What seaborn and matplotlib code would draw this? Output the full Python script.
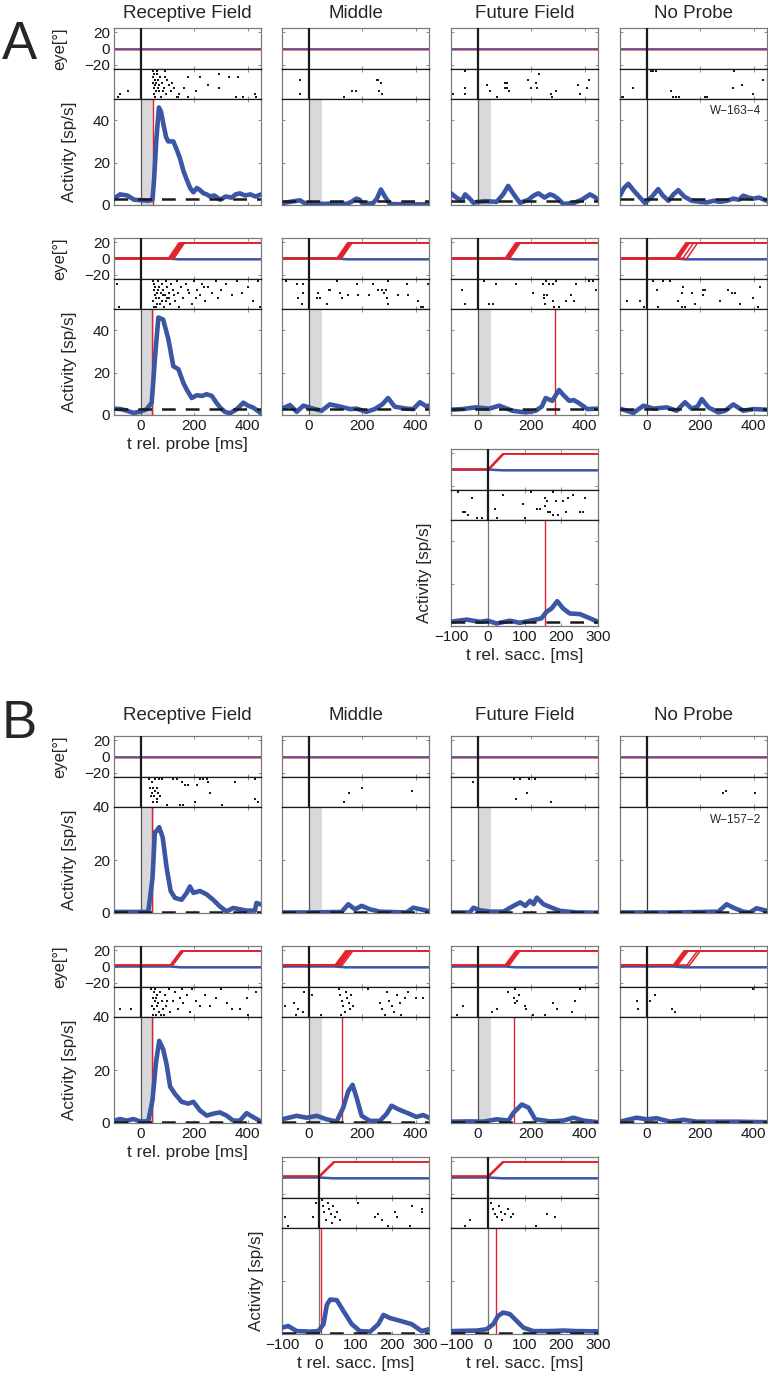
"""Probe / saccade aligned activity panels (eye, raster, firing rate)."""

import matplotlib
matplotlib.use("Agg")
import matplotlib.pyplot as plt
import matplotlib.transforms as mtransforms
import seaborn as sns

sns.set_theme(style="white")
plt.rcParams["font.family"] = ["Liberation Sans", "DejaVu Sans"]

FIG_W, FIG_H = 768, 1375
COL_X = [114, 282, 451, 620]
AX_W = 147
EYE_H, RAS_H, ACT_H = 41, 30, 106

BLUE = "#3a56a5"
RED = "#e3232b"
SHADE = "#d9d9db"
FRAME = "#7a7a7a"

TITLES = ["Receptive Field", "Middle", "Future Field", "No Probe"]
PROBE_XLIM = (-100, 450)
SACC_XLIM = (-100, 300)
PROBE_TICKS = [0, 200, 400]
SACC_TICKS = [-100, 0, 100, 200, 300]
SACC_AMP = 19      # eye displacement after saccade [deg]
SACC_DUR = 40      # ms
BLUE_DRIFT = -1.0
PROBE_SHADE = (0, 50)

# ---------------- activity curves (t [ms], rate [sp/s]) ----------------
A1_RF_ACT = [(-100, 3), (-78, 5), (-50, 4.5), (-25, 2.5), (-3, 2.3), (30, 2), (44, 2.5), (50, 12), (58, 30),
             (68, 46), (76, 44), (85, 38), (95, 32), (103, 30), (122, 30), (135, 26), (147, 22), (160, 16),
             (172, 12), (185, 8), (197, 6), (210, 8), (222, 7), (235, 5.5), (247, 5), (260, 4), (275, 4.5),
             (297, 2.5), (318, 4), (340, 3.5), (355, 5), (371, 5.5), (390, 4.5), (410, 5), (430, 4), (450, 5)]
A1_MID_ACT = [(-100, 0.8), (-70, 1.5), (-33, 2.2), (-10, 0.5), (20, 0.8), (60, 0.5), (100, 0.8), (142, 0.5),
              (160, 1.5), (178, 3), (190, 2.5), (203, 0.5), (240, 0.8), (255, 3), (270, 7.3), (285, 4),
              (304, 0.5), (350, 0.3), (450, 0.3)]
A1_FUT_ACT = [(-100, 5.5), (-80, 3.5), (-60, 2), (-47, 5), (-30, 3), (-16, 1), (0, 1.5), (30, 1.8), (71, 1.5),
              (95, 5), (114, 9), (135, 5), (158, 1), (190, 2.5), (210, 4.5), (227, 5.5), (250, 3.5), (270, 5),
              (283, 4.5), (300, 3), (320, 0.5), (360, 1), (390, 2.5), (420, 5), (435, 4), (450, 2.5)]
A1_NP_ACT = [(-100, 4.4), (-85, 8), (-69, 10), (-50, 7), (-25, 3.5), (-7, 1), (20, 4), (43, 7.5), (60, 4.5),
             (81, 2), (100, 5), (118, 7), (140, 4), (168, 2), (200, 1.5), (224, 1.2), (250, 2), (274, 1.5),
             (300, 2), (324, 3), (345, 2.5), (361, 4.4), (380, 3.5), (399, 3), (420, 3.5), (450, 2)]

A2_RF_ACT = [(-100, 3), (-75, 2.8), (-52, 2), (-27, 1), (-3, 1.5), (22, 2.7), (41, 5.8), (54, 28), (66, 46),
             (84, 45), (103, 36), (122, 23), (141, 21.6), (160, 15), (172, 12), (191, 8), (209, 9.3), (230, 9),
             (247, 9.8), (266, 9), (282, 6), (297, 3.5), (315, 1.5), (334, 0.8), (359, 2.7), (384, 5.8),
             (400, 4.5), (421, 3.5), (450, 0.8)]
A2_MID_ACT = [(-100, 3), (-70, 4.7), (-45, 1.5), (-20, 4.4), (17, 3), (48, 2), (79, 5), (117, 4), (154, 2.8),
              (179, 3), (216, 1.5), (247, 2.8), (275, 5), (297, 8), (322, 3.9), (366, 3), (391, 2.8),
              (416, 6), (441, 4), (450, 4.5)]
A2_FUT_ACT = [(-100, 2.5), (-57, 2.8), (-7, 3.6), (43, 3), (80, 4.4), (130, 2), (180, 1.2), (217, 2), (240, 4),
              (254, 8), (279, 6.7), (304, 11.8), (320, 9.5), (342, 6.7), (360, 7), (379, 5.6), (410, 2.8),
              (450, 3)]
A2_NP_ACT = [(-100, 3), (-50, 1), (-12, 4.4), (25, 3), (75, 3.6), (112, 2), (143, 6), (168, 3), (190, 4),
             (206, 7.5), (231, 3.6), (268, 1.2), (293, 2), (324, 5), (361, 2), (399, 2.8), (450, 2.5)]

A3_SACC_ACT = [(-100, 2), (-80, 2.5), (-57, 3), (-40, 2.5), (-21, 2), (0, 2.5), (24, 1.2), (60, 2.5), (87, 1.5),
               (124, 2.8), (146, 3.6), (160, 6.7), (174, 8.3), (189, 11.7), (205, 8.3), (223, 5.9), (251, 5.6),
               (273, 4), (300, 2)]

B1_RF_ACT = [(-100, 0.4), (0, 0.4), (28, 0.4), (44, 13), (53, 30.5), (60, 31), (69, 32.4), (82, 28.6), (97, 17),
             (112, 8.3), (128, 5.7), (153, 5), (172, 7.6), (184, 10), (197, 7.6), (222, 8.3), (247, 7),
             (271, 5), (296, 2.5), (321, 0.6), (346, 1.9), (396, 0.9), (427, 0.9), (433, 3.8), (450, 3.2)]
B1_MID_ACT = [(-100, 0.2), (0, 0.2), (123, 0.4), (148, 3.3), (173, 1.4), (198, 2.7), (229, 1.4), (266, 0.5),
              (366, 0.2), (391, 2), (450, 0.7)]
B1_FUT_ACT = [(-100, 0.2), (-30, 0.2), (-16, 2), (9, 1), (50, 0.5), (96, 0.5), (134, 2.7), (159, 4), (178, 2.7),
              (196, 4.6), (209, 3.3), (221, 5.8), (246, 3.3), (277, 2), (308, 0.8), (371, 0.2), (450, 0.1)]
B1_NP_ACT = [(-100, 0.2), (100, 0.2), (268, 0.5), (299, 3.3), (324, 2), (361, 0.5), (386, 0.2), (411, 1.8),
             (450, 0.8)]

B2_RF_ACT = [(-100, 0.9), (-77, 1.5), (-52, 0.9), (-27, 1.5), (-3, 0.6), (28, 0.6), (44, 8.6), (57, 22.7),
             (69, 31), (84, 27.8), (97, 22), (110, 13.7), (128, 11), (153, 8), (178, 7.3), (197, 8), (222, 4.7),
             (247, 2.8), (271, 3.5), (296, 4), (321, 2.8), (346, 0.9), (371, 0.9), (396, 3.7), (421, 2.2),
             (450, 0.6)]
B2_MID_ACT = [(-100, 1.4), (-45, 2.7), (-8, 2), (30, 2.7), (67, 1.4), (104, 0.5), (129, 5.8), (148, 12),
              (164, 14.4), (179, 9.6), (198, 2.7), (229, 0.8), (266, 0.8), (291, 3.4), (310, 6.5), (335, 5.2),
              (366, 3.9), (403, 2.3), (428, 3), (450, 2)]
B2_FUT_ACT = [(-100, 0.5), (-29, 0.6), (21, 0.5), (71, 1.4), (115, 0.9), (134, 3.9), (165, 7), (190, 5.8),
              (215, 1.4), (271, 0.6), (321, 0.9), (358, 2), (396, 0.9), (450, 0.3)]
B2_NP_ACT = [(-100, 0.5), (-38, 2), (0, 1.4), (37, 1.8), (87, 0.5), (137, 1.2), (187, 0.5), (336, 0.5),
             (450, 0.3)]

B3_MID_ACT = [(-100, 2.4), (-83, 3), (-60, 1.1), (-24, 0.9), (-1, 1.1), (13, 3.7), (22, 11), (31, 13), (49, 12.8),
              (67, 8.7), (90, 3.7), (112, 1.1), (140, 0.9), (162, 3.7), (176, 7.2), (194, 6), (221, 5),
              (253, 3.7), (280, 1.1), (300, 1.8)]
B3_FUT_ACT = [(-100, 1.1), (-30, 1.3), (-3, 1.8), (15, 3.7), (28, 6.8), (42, 8.1), (60, 7.5), (74, 5.6),
              (97, 2.4), (124, 1.1), (169, 1.1), (205, 1.3), (240, 1.1), (300, 1)]

# ---------------- raster spikes (t [ms], trial) ----------------
A1_RF_SPK = [(45, 10), (50, 9), (47, 8), (52, 7), (46, 6), (55, 5), (50, 4), (58, 3), (48, 2), (53, 1), (62, 9),
             (66, 7), (70, 5), (68, 3), (75, 1), (80, 6), (88, 4), (92, 8), (96, 2), (105, 5), (112, 3), (125, 4),
             (135, 1), (145, 2), (60, 10), (72, 8), (82, 3), (90, 10), (-79, 2), (-48, 3), (-85, 1), (178, 8),
             (222, 8), (294, 9), (331, 8), (365, 8), (162, 4), (205, 3), (250, 5), (294, 4), (381, 1), (427, 2),
             (433, 1), (355, 1), (140, 1), (175, 1), (57, 6), (63, 4), (100, 7), (118, 6)]
A1_MID_SPK = [(-33, 7), (-33, 2), (132, 1), (161, 3), (175, 3), (254, 7), (260, 7), (270, 6), (264, 3), (273, 2)]
A1_FUT_SPK = [(-91, 2), (-48, 10), (-48, 4), (-48, 2), (34, 5), (46, 3), (71, 1), (102, 6), (111, 6), (102, 4),
              (111, 4), (118, 3), (189, 7), (230, 9), (217, 6), (220, 4), (199, 4), (274, 2), (293, 3), (277, 1),
              (377, 5), (381, 2), (408, 4), (418, 7)]
A1_NP_SPK = [(-98, 1), (-93, 1), (-88, 1), (-50, 4), (15, 10), (25, 10), (35, 10), (91, 3), (100, 1), (110, 1),
             (120, 1), (218, 1), (225, 1), (324, 4), (328, 10), (358, 5), (399, 2), (436, 7)]

A2_RF_SPK = [(-88, 9), (-80, 1), (45, 10), (50, 9), (55, 8), (48, 7), (60, 6), (52, 5), (58, 4), (46, 3), (62, 2),
             (50, 1), (65, 10), (70, 8), (75, 6), (68, 4), (72, 2), (80, 9), (85, 7), (90, 5), (78, 3), (88, 1),
             (95, 10), (100, 8), (105, 6), (98, 4), (110, 2), (115, 9), (120, 7), (125, 5), (130, 3), (135, 10),
             (140, 6), (150, 8), (160, 4), (170, 9), (180, 6), (190, 2), (200, 10), (210, 7), (220, 5), (230, 9),
             (240, 3), (250, 8), (265, 6), (280, 10), (290, 4), (300, 7), (320, 9), (340, 5), (360, 10), (380, 6),
             (400, 8), (420, 3), (440, 10), (445, 1), (56, 1), (63, 7), (83, 5), (93, 3), (107, 4), (145, 1),
             (175, 7), (205, 4), (235, 8)]
A2_MID_SPK = [(-85, 10), (-45, 9), (-20, 9), (-23, 6), (-39, 4), (-26, 2), (36, 6), (30, 4), (42, 4), (74, 7),
              (80, 7), (105, 10), (67, 2), (117, 6), (123, 4), (148, 5), (179, 9), (186, 5), (226, 5), (242, 9),
              (261, 7), (273, 7), (280, 6), (289, 7), (296, 10), (292, 4), (298, 2), (335, 5), (366, 9), (372, 5),
              (410, 3), (420, 1), (429, 1), (447, 9)]
A2_FUT_SPK = [(-60, 7), (-48, 2), (22, 10), (44, 2), (56, 2), (68, 9), (143, 9), (205, 6), (243, 9), (255, 10),
              (268, 9), (280, 9), (293, 10), (249, 5), (261, 5), (249, 4), (252, 2), (280, 3), (286, 1), (305, 1),
              (330, 3), (349, 5), (361, 3), (368, 9), (417, 10), (430, 10), (442, 7)]
A2_NP_SPK = [(-75, 3), (-25, 3), (-12, 1), (25, 10), (62, 10), (37, 7), (44, 1), (87, 10), (118, 3), (131, 6),
             (131, 1), (137, 8), (143, 1), (168, 6), (181, 2), (212, 7), (218, 7), (212, 5), (274, 3), (305, 7),
             (318, 6), (330, 6), (349, 2), (399, 4), (418, 1), (424, 8)]
A3_SACC_SPK = [(-80, 10), (-44, 8), (-68, 3), (-62, 3), (-53, 2), (-30, 1), (-17, 1), (19, 4), (24, 1), (42, 9),
               (97, 6), (101, 1), (119, 10), (133, 4), (142, 4), (156, 8), (160, 7), (157, 5), (164, 3), (169, 3),
               (178, 10), (178, 2), (187, 7), (191, 2), (205, 7), (214, 3), (219, 8), (232, 9), (250, 3),
               (259, 3), (264, 8)]

B1_RF_SPK = [(32, 10), (41, 9), (54, 10), (69, 10), (78, 10), (35, 7), (47, 7), (60, 7), (41, 5), (54, 6),
             (66, 5), (37, 4), (50, 4), (60, 3), (72, 4), (45, 2), (60, 2), (97, 1), (122, 10), (134, 10),
             (153, 9), (166, 8), (178, 8), (209, 8), (222, 10), (234, 10), (247, 10), (253, 9), (259, 5),
             (353, 9), (427, 10), (427, 3), (440, 2), (147, 1), (157, 1), (203, 2), (303, 1)]
B1_MID_SPK = [(132, 2), (150, 5), (200, 7), (387, 6)]
B1_FUT_SPK = [(-19, 9), (134, 10), (158, 10), (190, 10), (214, 10), (143, 3), (184, 5), (275, 2)]
B1_NP_SPK = [(286, 5), (296, 6), (405, 5)]

B2_RF_SPK = [(-79, 3), (-36, 3), (40, 10), (48, 9), (55, 10), (62, 8), (45, 7), (52, 6), (58, 7), (65, 5),
             (42, 4), (50, 3), (60, 4), (68, 2), (47, 1), (56, 1), (72, 9), (78, 6), (85, 3), (90, 8), (75, 1),
             (95, 4), (105, 10), (110, 2), (122, 6), (130, 9), (140, 3), (147, 7), (153, 10), (160, 5), (172, 8),
             (185, 2), (191, 10), (205, 6), (220, 4), (240, 8), (259, 4), (280, 7), (300, 10), (321, 5),
             (340, 3), (371, 3), (396, 7), (402, 1), (430, 9), (88, 1), (100, 6)]
B2_MID_SPK = [(-89, 4), (-55, 5), (-39, 3), (-20, 2), (-48, 1), (-17, 9), (11, 8), (45, 1), (112, 10), (118, 8),
              (125, 6), (130, 4), (135, 2), (140, 9), (145, 7), (150, 5), (155, 3), (122, 1), (160, 8), (165, 4),
              (223, 10), (268, 5), (275, 3), (285, 1), (291, 9), (300, 6), (310, 4), (320, 2), (330, 8), (340, 5),
              (347, 1), (360, 7), (372, 9), (403, 7), (428, 7)]
B2_FUT_SPK = [(-56, 4), (-77, 1), (52, 2), (71, 3), (115, 9), (140, 10), (134, 7), (146, 6), (140, 5), (155, 8),
              (177, 4), (181, 3), (208, 1), (252, 1), (283, 5), (298, 3), (352, 2), (364, 6), (383, 10)]
B2_NP_SPK = [(-38, 6), (-31, 3), (12, 6), (31, 8), (96, 3), (104, 2), (399, 10)]
B3_MID_SPK = [(-92, 4), (-83, 1), (-15, 4), (-8, 9), (8, 10), (12, 8), (15, 6), (20, 3), (25, 9), (28, 7),
              (32, 5), (35, 2), (40, 8), (45, 4), (50, 6), (58, 3), (108, 9), (153, 4), (162, 5), (171, 3),
              (189, 1), (207, 6), (212, 4), (249, 1), (253, 8), (280, 7), (280, 6)]
B3_FUT_SPK = [(-62, 1), (-48, 3), (10, 9), (15, 7), (20, 5), (25, 4), (30, 8), (35, 6), (40, 3), (48, 5),
              (55, 7), (62, 4), (70, 5), (131, 1), (160, 5), (183, 4)]

# ---------------- saccade onsets per trial [ms] (probe-aligned rows) ----------------
A2_RF_ONSETS = [103, 107, 110, 113, 116, 120, 124]
A2_MID_ONSETS = [105, 108, 111, 114, 118, 122]
A2_FUT_ONSETS = [102, 105, 108, 112, 115, 119]
A2_NP_ONSETS = [106, 109, 112, 116, 120, 135, 150]
B2_RF_ONSETS = [110, 113, 116, 120]
B2_MID_ONSETS = [98, 102, 106, 110, 114, 118, 125]
B2_FUT_ONSETS = [102, 106, 110, 114, 118]
B2_NP_ONSETS = [99, 103, 107, 111, 115, 150, 160]
SACC_ALIGNED_ONSETS = [0, 2, 4]

# red marker (response latency) and dashed baseline rate
A1_RED = [46, None, None, None]
A2_RED = [41, None, 289, None]
A3_RED = 156
B1_RED = [41, None, None, None]
B2_RED = [41, 126, 137, None]
B3_RED = [7, 22]
A1_BASE = [2.8, 2, 2, 3]
A2_BASE = [3, 3, 3, 3]
A3_BASE = 2
B_BASE = [0.3, 0.3, 0.3, 0.3]
B3_BASE = 0.4


def px_rect(x, y, w, h):
    return [x / FIG_W, 1 - (y + h) / FIG_H, w / FIG_W, h / FIG_H]


def style_axis(ax, xlim, xticks):
    ax.set_xlim(*xlim)
    ax.set_xticks(xticks)
    ax.tick_params(direction="in", length=2.5, width=0.6, color=FRAME, labelsize=11,
                   top=True, right=True, bottom=True, left=True, pad=3, labelcolor="#1a1a1a")
    for sp in ax.spines.values():
        sp.set_color(FRAME); sp.set_linewidth(0.9); sp.set_visible(True)
    ax.set_xlabel(""); ax.set_ylabel("")


def draw_eye(ax, onsets, xlim, red0):
    if onsets:
        on = onsets[0]
        sns.lineplot(x=[xlim[0], on, on + SACC_DUR, xlim[1]], y=[0, 0, BLUE_DRIFT, BLUE_DRIFT],
                     color=BLUE, lw=1.8, ax=ax)
        for on in onsets:
            sns.lineplot(x=[xlim[0], on, on + SACC_DUR, xlim[1]], y=[red0, red0, SACC_AMP, SACC_AMP],
                         color=RED, lw=1.1, ax=ax)
    else:
        sns.lineplot(x=list(xlim), y=[0, 0], color=RED, lw=1.8, alpha=0.8, ax=ax)
        sns.lineplot(x=list(xlim), y=[0, 0], color=BLUE, lw=1.2, alpha=0.85, ax=ax)


def draw_panel(fig, x0, top, act, spikes, onsets=(), red_t=None, base=2.0, ymax=50,
               sacc=False, probe=True, first_col=False, xlabels=False, red0=0.0):
    xlim = SACC_XLIM if sacc else PROBE_XLIM
    xticks = SACC_TICKS if sacc else PROBE_TICKS
    ax_e = fig.add_axes(px_rect(x0, top, AX_W, EYE_H))
    ax_r = fig.add_axes(px_rect(x0, top + EYE_H, AX_W, RAS_H))
    ax_a = fig.add_axes(px_rect(x0, top + EYE_H + RAS_H, AX_W, ACT_H))

    # eye position
    draw_eye(ax_e, list(onsets), xlim, red0)
    ax_e.axvline(0, color="k", lw=1.6, zorder=5)
    style_axis(ax_e, xlim, xticks)
    ax_e.set_ylim(-25, 25)
    ax_e.set_yticks([-20, 0, 20])
    ax_e.set_xticklabels([])

    # raster
    t, tr = zip(*spikes)
    sns.scatterplot(x=list(t), y=list(tr), marker="s", s=3.0, color="k", linewidth=0, ax=ax_r)
    ax_r.axvline(0, color="k", lw=1.6, zorder=5)
    style_axis(ax_r, xlim, xticks)
    ax_r.set_ylim(0.2, 10.8)
    ax_r.set_yticks([])
    ax_r.set_xticklabels([])

    # activity
    t, v = zip(*act)
    if probe and not sacc:
        ax_a.axvspan(*PROBE_SHADE, color=SHADE, lw=0, zorder=0)
        ax_a.axvline(0, color="#555555", lw=0.9, zorder=1)
    else:
        ax_a.axvline(0, color="#333333" if not sacc else "#777777", lw=0.9, zorder=1)
    if red_t is not None:
        ax_a.axvline(red_t, color=RED, lw=1.0, zorder=2)
    sns.lineplot(x=list(t), y=list(v), color=BLUE, lw=3.3, ax=ax_a, zorder=3)
    ax_a.axhline(base, color="k", lw=1.8, dashes=(5.5, 4), zorder=4)
    style_axis(ax_a, xlim, xticks)
    ax_a.set_ylim(0, ymax)
    ax_a.set_yticks([0, 20, 40])
    if not xlabels:
        ax_a.set_xticklabels([])

    # dividers between stacked axes
    ax_e.spines["bottom"].set_color("k")
    ax_r.spines["top"].set_color("k")
    ax_r.spines["bottom"].set_color("k")
    ax_a.spines["top"].set_color("k")

    if first_col:
        ax_e.set_ylabel("eye[°]", fontsize=12)
        ax_e.yaxis.set_label_coords(-0.32, 0.5)
        ax_a.set_ylabel("Activity [sp/s]", fontsize=12.3)
        ax_a.yaxis.set_label_coords(-0.25, 0.5)
    else:
        ax_e.set_yticklabels([])
        ax_a.set_yticklabels([])
    return ax_a


def nudge_label(label, dx_px):
    shift = mtransforms.ScaledTranslation(dx_px / 100, 0, fig.dpi_scale_trans)
    label.set_transform(label.get_transform() + shift)


fig = plt.figure(figsize=(FIG_W / 100, FIG_H / 100), dpi=100)

# ---------------- panel A ----------------
A_ROW1 = [A1_RF_ACT, A1_MID_ACT, A1_FUT_ACT, A1_NP_ACT]
A_ROW1_SPK = [A1_RF_SPK, A1_MID_SPK, A1_FUT_SPK, A1_NP_SPK]
A_ROW2 = [A2_RF_ACT, A2_MID_ACT, A2_FUT_ACT, A2_NP_ACT]
A_ROW2_SPK = [A2_RF_SPK, A2_MID_SPK, A2_FUT_SPK, A2_NP_SPK]
A_ROW2_ON = [A2_RF_ONSETS, A2_MID_ONSETS, A2_FUT_ONSETS, A2_NP_ONSETS]

for i in range(4):
    a = draw_panel(fig, COL_X[i], 28, A_ROW1[i], A_ROW1_SPK[i], red_t=A1_RED[i], base=A1_BASE[i],
                   ymax=50, probe=(i < 3), first_col=(i == 0))
    if i == 3:
        a.text(0.96, 0.89, "W−163−4", transform=a.transAxes, ha="right", va="center", fontsize=8.5)
    a = draw_panel(fig, COL_X[i], 238, A_ROW2[i], A_ROW2_SPK[i], onsets=A_ROW2_ON[i], red_t=A2_RED[i],
                   base=A2_BASE[i], ymax=50, probe=(i < 3), first_col=(i == 0), xlabels=True)
    if i == 0:
        a.set_xlabel("t rel. probe [ms]", fontsize=12.5, labelpad=3)

a = draw_panel(fig, COL_X[2], 449, A3_SACC_ACT, A3_SACC_SPK, onsets=SACC_ALIGNED_ONSETS, red_t=A3_RED,
               base=A3_BASE, ymax=50, sacc=True, xlabels=True)
a.set_xlabel("t rel. sacc. [ms]", fontsize=12.5, labelpad=3)
a.set_ylabel("Activity [sp/s]", fontsize=12.3)
a.yaxis.set_label_coords(-0.13, 0.5)

# ---------------- panel B ----------------
B_ROW1 = [B1_RF_ACT, B1_MID_ACT, B1_FUT_ACT, B1_NP_ACT]
B_ROW1_SPK = [B1_RF_SPK, B1_MID_SPK, B1_FUT_SPK, B1_NP_SPK]
B_ROW2 = [B2_RF_ACT, B2_MID_ACT, B2_FUT_ACT, B2_NP_ACT]
B_ROW2_SPK = [B2_RF_SPK, B2_MID_SPK, B2_FUT_SPK, B2_NP_SPK]
B_ROW2_ON = [B2_RF_ONSETS, B2_MID_ONSETS, B2_FUT_ONSETS, B2_NP_ONSETS]

for i in range(4):
    a = draw_panel(fig, COL_X[i], 736, B_ROW1[i], B_ROW1_SPK[i], red_t=B1_RED[i], base=B_BASE[i],
                   ymax=40, probe=(i < 3), first_col=(i == 0))
    if i == 3:
        a.text(0.96, 0.88, "W−157−2", transform=a.transAxes, ha="right", va="center", fontsize=8.5)
    a = draw_panel(fig, COL_X[i], 946, B_ROW2[i], B_ROW2_SPK[i], onsets=B_ROW2_ON[i], red_t=B2_RED[i],
                   base=B_BASE[i], ymax=40, probe=(i < 3), first_col=(i == 0), xlabels=True, red0=1.5)
    if i == 0:
        a.set_xlabel("t rel. probe [ms]", fontsize=12.5, labelpad=3)

for j, (act, spk) in enumerate([(B3_MID_ACT, B3_MID_SPK), (B3_FUT_ACT, B3_FUT_SPK)]):
    a = draw_panel(fig, COL_X[1 + j], 1157, act, spk, onsets=SACC_ALIGNED_ONSETS, red_t=B3_RED[j],
                   base=B3_BASE, ymax=40, sacc=True, xlabels=True, red0=1.5)
    a.set_xlabel("t rel. sacc. [ms]", fontsize=12.5, labelpad=3)
    labels = a.get_xticklabels()
    # neighbouring panels share a narrow gap: push their end labels slightly apart
    if j == 0:
        nudge_label(labels[-1], -4)
        a.set_ylabel("Activity [sp/s]", fontsize=12.3)
        a.yaxis.set_label_coords(-0.12, 0.5)
    else:
        nudge_label(labels[0], 5)

# titles and panel letters
for top_y in (14, 715):
    for i, title in enumerate(TITLES):
        fig.text((COL_X[i] + AX_W / 2) / FIG_W, 1 - top_y / FIG_H, title, ha="center", va="center",
                 fontsize=13.5)
fig.text(2 / FIG_W, 1 - 45 / FIG_H, "A", ha="left", va="center", fontsize=38)
fig.text(2 / FIG_W, 1 - 724 / FIG_H, "B", ha="left", va="center", fontsize=38)

fig.savefig("out.png", dpi=100)
plt.close(fig)
